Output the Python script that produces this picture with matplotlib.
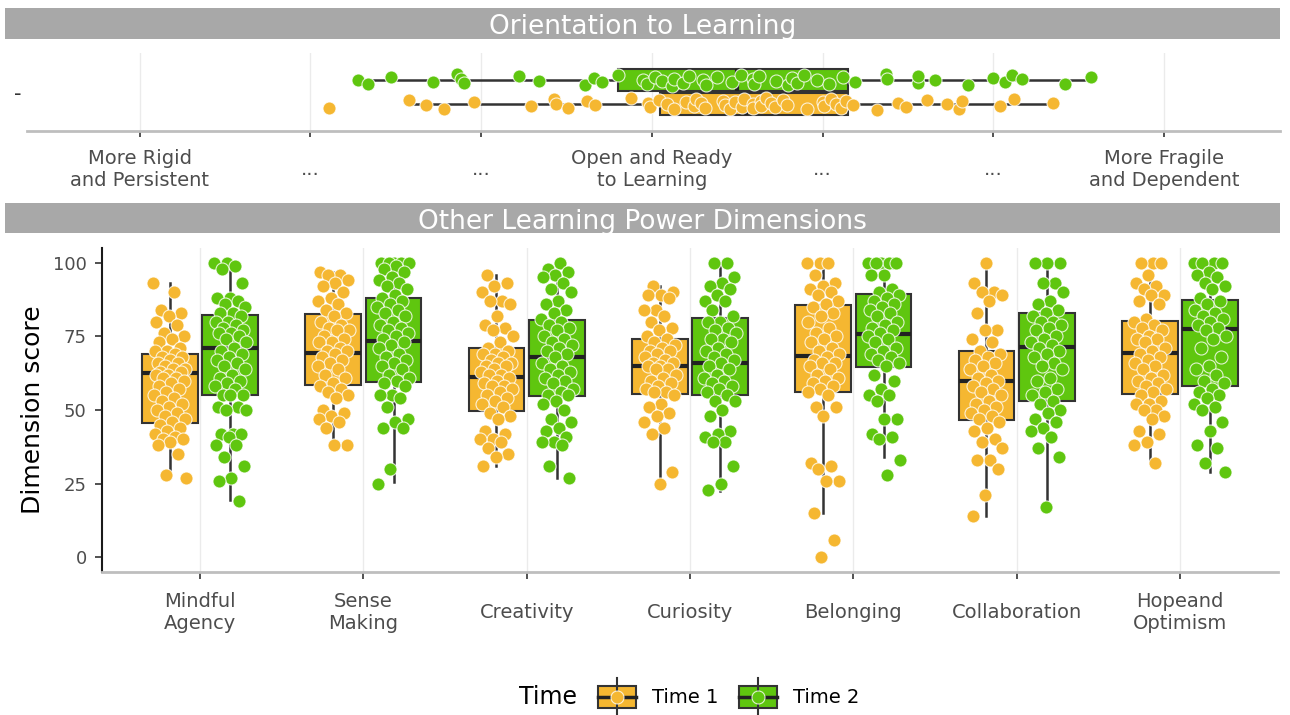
import numpy as np
import matplotlib.pyplot as plt

# Orientation to Learning (-3 = rigid/persistent, 0 = open, +3 = fragile/dependent)
orient_t1 = [-1.89, -1.42, -1.32, -1.22, -1.04, -0.71, -0.57, -0.56, -0.49, -0.38, -0.33,
             -0.12, -0.02, -0.01, 0.04, 0.09, 0.13, 0.20, 0.25, 0.26, 0.29, 0.31, 0.42, 0.43,
             0.46, 0.49, 0.53, 0.54, 0.59, 0.59, 0.64, 0.64, 0.67, 0.70, 0.72, 0.77, 0.79,
             0.91, 1.00, 1.01, 1.05, 1.08, 1.11, 1.14, 1.18, 1.32, 1.44, 1.49, 1.61, 1.73,
             1.80, 1.82, 2.04, 2.12, 2.35]
orient_t2 = [-1.72, -1.66, -1.53, -1.28, -1.14, -1.12, -1.10, -0.78, -0.66, -0.39, -0.34,
             -0.29, -0.20, -0.05, -0.03, 0.02, 0.06, 0.12, 0.13, 0.18, 0.22, 0.30, 0.32, 0.38,
             0.47, 0.52, 0.59, 0.60, 0.63, 0.73, 0.80, 0.82, 0.85, 0.89, 0.97, 1.04, 1.12,
             1.19, 1.37, 1.38, 1.56, 1.56, 1.66, 1.85, 2.00, 2.07, 2.11, 2.17, 2.42, 2.57]
orient_low = [-1.42, -1.72]
orient_q1 = [0.05, -0.20]
orient_med = [0.55, 0.50]
orient_q3 = [1.15, 1.15]
orient_high = [2.35, 2.57]
orient_ticks = ['More Rigid\nand Persistent', '...', '...', 'Open and Ready\nto Learning',
                '...', '...', 'More Fragile\nand Dependent']

# Other learning power dimensions (0-100)
dimensions = ['Mindful\nAgency', 'Sense\nMaking', 'Creativity', 'Curiosity', 'Belonging',
              'Collaboration', 'Hopeand\nOptimism']

ma_t1 = [93, 90, 84, 83, 82, 80, 79, 76, 75, 74, 73, 71, 70, 70, 69, 68, 68, 67, 66, 66, 65,
         64, 64, 63, 63, 62, 62, 61, 61, 60, 59, 58, 57, 56, 55, 54, 53, 52, 51, 50, 49, 48,
         47, 46, 45, 44, 43, 42, 41, 40, 40, 39, 38, 35, 28, 27]
ma_t2 = [100, 100, 99, 98, 93, 88, 88, 87, 86, 85, 83, 83, 82, 80, 80, 79, 78, 77, 76, 76, 75,
         74, 73, 71, 70, 69, 68, 67, 66, 65, 64, 62, 61, 60, 59, 58, 57, 55, 55, 55, 51, 51,
         50, 50, 42, 42, 42, 41, 38, 38, 34, 31, 27, 26, 19]
sm_t1 = [97, 96, 96, 94, 93, 92, 90, 88, 87, 86, 84, 83, 82, 80, 79, 78, 77, 77, 75, 74, 73,
         73, 71, 70, 70, 69, 68, 67, 66, 65, 64, 62, 61, 59, 58, 57, 56, 55, 54, 50, 49, 48,
         47, 46, 44, 38, 38]
sm_t2 = [100, 100, 100, 100, 100, 99, 98, 97, 95, 94, 93, 92, 91, 89, 88, 87, 86, 85, 84, 83,
         82, 80, 79, 78, 77, 76, 75, 74, 73, 72, 71, 69, 68, 67, 66, 65, 64, 62, 61, 60, 59,
         58, 55, 55, 54, 51, 47, 46, 44, 44, 30, 25]
cr_t1 = [96, 93, 92, 90, 87, 87, 86, 82, 79, 78, 77, 75, 73, 71, 70, 69, 69, 68, 67, 66, 66,
         65, 65, 64, 63, 62, 62, 61, 60, 59, 58, 58, 57, 56, 55, 54, 53, 52, 51, 49, 48, 47,
         43, 42, 40, 40, 39, 37, 35, 34, 31]
cr_t2 = [100, 98, 97, 96, 95, 93, 91, 90, 87, 86, 84, 83, 81, 80, 79, 78, 77, 75, 74, 73, 72,
         71, 70, 69, 68, 66, 65, 64, 63, 62, 61, 60, 59, 57, 56, 55, 55, 53, 52, 50, 47, 46,
         44, 43, 41, 39, 39, 38, 31, 27]
cu_t1 = [92, 90, 89, 89, 88, 84, 84, 82, 80, 78, 77, 75, 74, 73, 72, 71, 70, 70, 69, 68, 67,
         66, 66, 65, 65, 64, 64, 62, 61, 60, 59, 58, 57, 56, 56, 55, 52, 51, 49, 48, 46, 44,
         42, 29, 25]
cu_t2 = [100, 100, 95, 93, 92, 91, 89, 87, 87, 84, 82, 80, 80, 78, 77, 76, 74, 74, 73, 71, 70,
         69, 68, 67, 66, 65, 64, 62, 61, 60, 59, 58, 57, 56, 55, 53, 53, 50, 48, 43, 42, 41,
         39, 39, 31, 25, 23]
be_t1 = [100, 100, 100, 96, 93, 92, 91, 90, 89, 87, 86, 85, 83, 82, 80, 78, 76, 75, 74, 73,
         71, 70, 69, 68, 67, 66, 66, 65, 64, 62, 61, 60, 59, 58, 57, 56, 55, 51, 51, 48, 32,
         31, 30, 26, 26, 15, 6, 0]
be_t2 = [100, 100, 100, 100, 100, 100, 96, 96, 91, 90, 89, 88, 87, 86, 85, 84, 83, 82, 80, 79,
         78, 77, 76, 75, 74, 73, 71, 70, 69, 68, 67, 66, 65, 62, 60, 57, 55, 55, 53, 47, 47,
         42, 41, 40, 33, 28]
co_t1 = [100, 93, 90, 90, 89, 87, 83, 77, 77, 74, 73, 70, 69, 68, 67, 66, 65, 64, 62, 61, 60,
         59, 58, 57, 56, 55, 53, 52, 51, 50, 49, 48, 47, 46, 44, 43, 40, 39, 37, 33, 33, 30,
         21, 14]
co_t2 = [100, 100, 100, 93, 93, 90, 87, 86, 84, 83, 82, 80, 80, 79, 78, 77, 75, 74, 73, 72,
         71, 70, 69, 68, 66, 65, 64, 61, 60, 57, 56, 55, 53, 52, 50, 49, 47, 46, 44, 43, 41,
         37, 34, 17]
ho_t1 = [100, 100, 100, 96, 93, 92, 91, 89, 89, 87, 86, 81, 80, 79, 78, 77, 75, 74, 74, 73,
         71, 70, 69, 68, 67, 66, 65, 64, 62, 61, 60, 59, 58, 57, 56, 55, 53, 52, 52, 50, 50,
         48, 47, 43, 42, 39, 38, 32]
ho_t2 = [100, 100, 100, 100, 97, 96, 95, 93, 92, 91, 88, 87, 86, 84, 83, 82, 81, 80, 79, 78,
         77, 75, 74, 71, 68, 65, 64, 62, 60, 59, 57, 56, 55, 54, 52, 51, 50, 46, 43, 38, 37,
         32, 29]

t1_low = [27.5, 38, 31, 25.3, 15, 14, 32]
t1_q1 = [45.5, 58.5, 49.5, 55.5, 56.2, 46.7, 55.3]
t1_med = [62.4, 69.2, 61.3, 64.9, 68.4, 60.0, 69.2]
t1_q3 = [69.1, 82.7, 71.1, 74.2, 85.7, 70.0, 80.1]
t1_high = [93, 97, 96, 92, 100, 100, 100]
t2_low = [19.5, 25.5, 27, 22.5, 34, 17, 29]
t2_q1 = [55.1, 59.5, 54.8, 55.1, 64.7, 53.2, 58.1]
t2_med = [71.1, 73.3, 68.0, 66.1, 75.7, 71.4, 77.6]
t2_q3 = [82.4, 88.1, 80.4, 81.3, 89.4, 83.1, 87.4]
t2_high = [100, 100, 100, 100, 100, 100, 100]

times = ['Time 1', 'Time 2']
colors = ['#F5B731', '#5FC60F']
dark = '#333333'
pt_size = 88

W, H = 1290, 715
fig = plt.figure(figsize=(W / 100, H / 100), dpi=100)


def px_axes(x0, y0, x1, y1):
    # axes placed by pixel box (top-left origin)
    return fig.add_axes([x0 / W, 1 - y1 / H, (x1 - x0) / W, (y1 - y0) / H])


def spread(n, width, seed=0.0):
    # evenly scattered offsets for the jittered points
    return ((np.arange(n) * 0.618034 + seed) % 1 - 0.5) * 2 * width


def box_stats(low, q1, med, q3, high):
    return [dict(whislo=a, q1=b, med=c, q3=d, whishi=e) for a, b, c, d, e in zip(low, q1, med, q3, high)]


def strip(y0, y1, title, baseline):
    ax = px_axes(5, y0, 1280, y1)
    ax.set_facecolor('#A8A8A8')
    ax.set_xticks([])
    ax.set_yticks([])
    for s in ax.spines.values():
        s.set_visible(False)
    ax.text(0.5, (y1 - baseline) / (y1 - y0), title, transform=ax.transAxes, ha='center',
            va='baseline', fontsize=19, color='white', clip_on=True)


box_kw = dict(patch_artist=True, showcaps=False, showfliers=False, manage_ticks=False,
              widths=0.34,
              whiskerprops=dict(color=dark, linewidth=1.8),
              medianprops=dict(color='#222222', linewidth=3))

# ---- top panel: orientation to learning
strip(8, 39, 'Orientation to Learning', 34)
ax1 = px_axes(27, 53, 1280, 131)
ax1.set_xlim(-3.66, 3.68)
ax1.set_ylim(0.4, 1.6)
ticks = np.arange(-3, 4)
for x in ticks:
    ax1.axvline(x, color='#EBEBEB', linewidth=1, zorder=0)
orient_pts = [orient_t1, orient_t2]
for i, (pts, col) in enumerate(zip(orient_pts, colors)):
    pos = 1 - 0.185 if i == 0 else 1 + 0.185
    st = box_stats([orient_low[i]], [orient_q1[i]], [orient_med[i]], [orient_q3[i]], [orient_high[i]])
    ax1.bxp(st, positions=[pos], orientation='horizontal',
            boxprops=dict(facecolor=col, edgecolor=dark, linewidth=1.5), **box_kw)
    ax1.scatter(pts, pos + spread(len(pts), 0.09, 0.2 + i * 0.3), s=pt_size, color=col,
                edgecolors=(1, 1, 1, 0.8), linewidths=0.8, zorder=3)
ax1.set_xticks(ticks, orient_ticks, fontsize=14, color='#4D4D4D')
ax1.set_yticks([1], ['-'], fontsize=15, color='#333333')
ax1.tick_params(axis='x', length=4, width=1.2, color=dark, pad=24)
ax1.tick_params(axis='y', length=0, pad=4)
for lbl in ax1.get_xticklabels():
    lbl.set_verticalalignment('center')
for s in ['top', 'right', 'left']:
    ax1.spines[s].set_visible(False)
ax1.spines['bottom'].set_color('#BEBEBE')
ax1.spines['bottom'].set_linewidth(2)

# ---- bottom panel: other dimensions
strip(203, 233, 'Other Learning Power Dimensions', 229)
ax2 = px_axes(102, 248, 1278, 572)
ax2.set_xlim(0.4, 7.6)
ax2.set_ylim(-5, 105)
cats = np.arange(1, len(dimensions) + 1)
for x in cats:
    ax2.axvline(x, color='#EBEBEB', linewidth=1, zorder=0)
groups = [[ma_t1, sm_t1, cr_t1, cu_t1, be_t1, co_t1, ho_t1],
          [ma_t2, sm_t2, cr_t2, cu_t2, be_t2, co_t2, ho_t2]]
stats = [box_stats(t1_low, t1_q1, t1_med, t1_q3, t1_high),
         box_stats(t2_low, t2_q1, t2_med, t2_q3, t2_high)]
for i, col in enumerate(colors):
    offs = -0.185 if i == 0 else 0.185
    ax2.bxp(stats[i], positions=cats + offs,
            boxprops=dict(facecolor=col, edgecolor=dark, linewidth=1.5), **box_kw)
    for k, pts in enumerate(groups[i]):
        xs = cats[k] + offs + spread(len(pts), 0.1, 0.1 * k + 0.4 * i)
        ax2.scatter(xs, pts, s=pt_size, color=col, edgecolors=(1, 1, 1, 0.8), linewidths=0.8, zorder=3)
ax2.set_xticks(cats, dimensions, fontsize=14, color='#4D4D4D')
ax2.set_yticks([0, 25, 50, 75, 100])
ax2.tick_params(axis='y', labelsize=13, labelcolor='#4D4D4D', length=5, width=1.2, color=dark, pad=6)
ax2.tick_params(axis='x', length=5, width=1.2, color=dark, pad=24)
for lbl in ax2.get_xticklabels():
    lbl.set_verticalalignment('center')
ax2.spines['top'].set_visible(False)
ax2.spines['right'].set_visible(False)
ax2.spines['left'].set_color('#1A1A1A')
ax2.spines['left'].set_linewidth(1.5)
ax2.spines['bottom'].set_color('#BEBEBE')
ax2.spines['bottom'].set_linewidth(2)
fig.text(33 / W, 1 - 410 / H, 'Dimension score', rotation=90, ha='center', va='center', fontsize=18)

# ---- legend
leg = px_axes(500, 675, 880, 720)
leg.set_xlim(500, 880)
leg.set_ylim(720, 675)
leg.axis('off')
leg.text(548, 697, 'Time', fontsize=17, ha='center', va='center')
for cx, col, name in zip([617, 758], colors, times):
    leg.plot([cx, cx], [678, 716], color=dark, linewidth=1.5)
    leg.add_patch(plt.Rectangle((cx - 19, 686), 38, 22, facecolor=col, edgecolor=dark, linewidth=1.5))
    leg.plot([cx - 19, cx + 19], [697, 697], color='#222222', linewidth=2.5)
    leg.scatter([cx], [697], s=pt_size, color=col, edgecolors=(1, 1, 1, 0.8), linewidths=0.8, zorder=3)
    leg.text(cx + 35, 697, name, fontsize=14, ha='left', va='center')

fig.savefig('out.png', dpi=100)
